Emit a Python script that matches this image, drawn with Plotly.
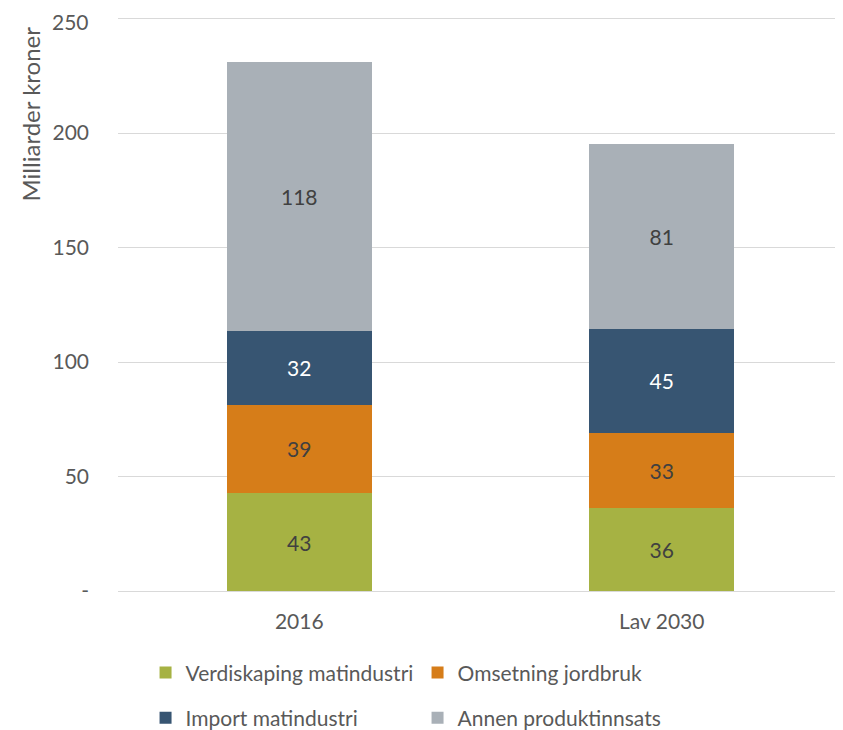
import plotly.graph_objects as go

categories = ["2016", "Lav 2030"]
series_names = ["Verdiskaping matindustri", "Omsetning jordbruk", "Import matindustri", "Annen produktinnsats"]
verdiskaping = [42.8, 36.3]
omsetning = [38.5, 32.8]
import_mat = [32.3, 45.4]
annen = [117.6, 80.9]
tick_vals = [0, 50, 100, 150, 200, 250]
tick_text = ["-", "50", "100", "150", "200", "250"]

colors = ["#A6B243", "#D67D19", "#375572", "#A9B0B7"]
text_colors = ["#404040", "#404040", "#FFFFFF", "#404040"]
legends = ["legend", "legend", "legend2", "legend2"]
FONT = "Lato, Open Sans, sans-serif"
FS = 21

# the page body has an 8px margin, so the figure is shrunk by that amount
fig = go.Figure()
for name, vals, c, tc, lg in zip(series_names, [verdiskaping, omsetning, import_mat, annen],
                                 colors, text_colors, legends):
    fig.add_trace(go.Bar(
        x=categories, y=vals, name=name, marker=dict(color=c, line=dict(width=0)),
        texttemplate="%{y:.0f}", textposition="inside", insidetextanchor="middle",
        textfont=dict(color=tc, size=FS, family=FONT), legend=lg,
        hoverinfo="skip",
    ))

legend_style = dict(orientation="h", font=dict(size=FS, color="#595959", family=FONT),
                    entrywidth=227, entrywidthmode="pixels", bgcolor="rgba(0,0,0,0)",
                    xanchor="left", yanchor="middle", traceorder="normal",
                    itemwidth=30, itemclick=False, itemdoubleclick=False)

# the top tick label gets hidden by plotly (too near the edge), so draw it as an annotation
top_label = dict(text=tick_text[-1], showarrow=False, xref="paper", yref="y",
                 x=-28 / 725, y=tick_vals[-1], xanchor="right", yanchor="middle",
                 yshift=-3, borderpad=0,
                 font=dict(size=FS, color="#595959", family=FONT))

fig.update_layout(
    width=835, height=722,
    template="simple_white",
    barmode="stack", bargap=0.6,
    margin=dict(l=110, r=0, t=6, b=139, autoexpand=False),
    font=dict(family=FONT, color="#595959", size=FS),
    plot_bgcolor="white", paper_bgcolor="white",
    showlegend=True,
    legend=dict(legend_style, x=0.038, y=-0.1418),
    legend2=dict(legend_style, x=0.038, y=-0.2201),
    uniformtext=dict(mode="show", minsize=10),
    annotations=[dict(
        text="Milliarder kroner", textangle=-90, showarrow=False,
        xref="paper", yref="paper", x=-(118 - 30) / 725, y=1 - 11 / 577,
        xanchor="center", yanchor="top",
        font=dict(size=24, color="#595959", family=FONT),
    ), top_label],
)
fig.update_yaxes(
    range=[0, 252], tickvals=tick_vals, ticktext=tick_text[:-1] + [""],
    showgrid=True, gridcolor="#D9D9D9", gridwidth=1.3,
    showline=False, ticks="", ticklabelstandoff=28,
    tickfont=dict(size=FS, color="#595959"), automargin=False,
    zeroline=False,
)
fig.update_xaxes(
    showline=True, linecolor="#D9D9D9", linewidth=1.3, ticks="",
    tickfont=dict(size=FS, color="#595959"), ticklabelstandoff=12,
    automargin=False,
)

fig.write_html("out.html")
